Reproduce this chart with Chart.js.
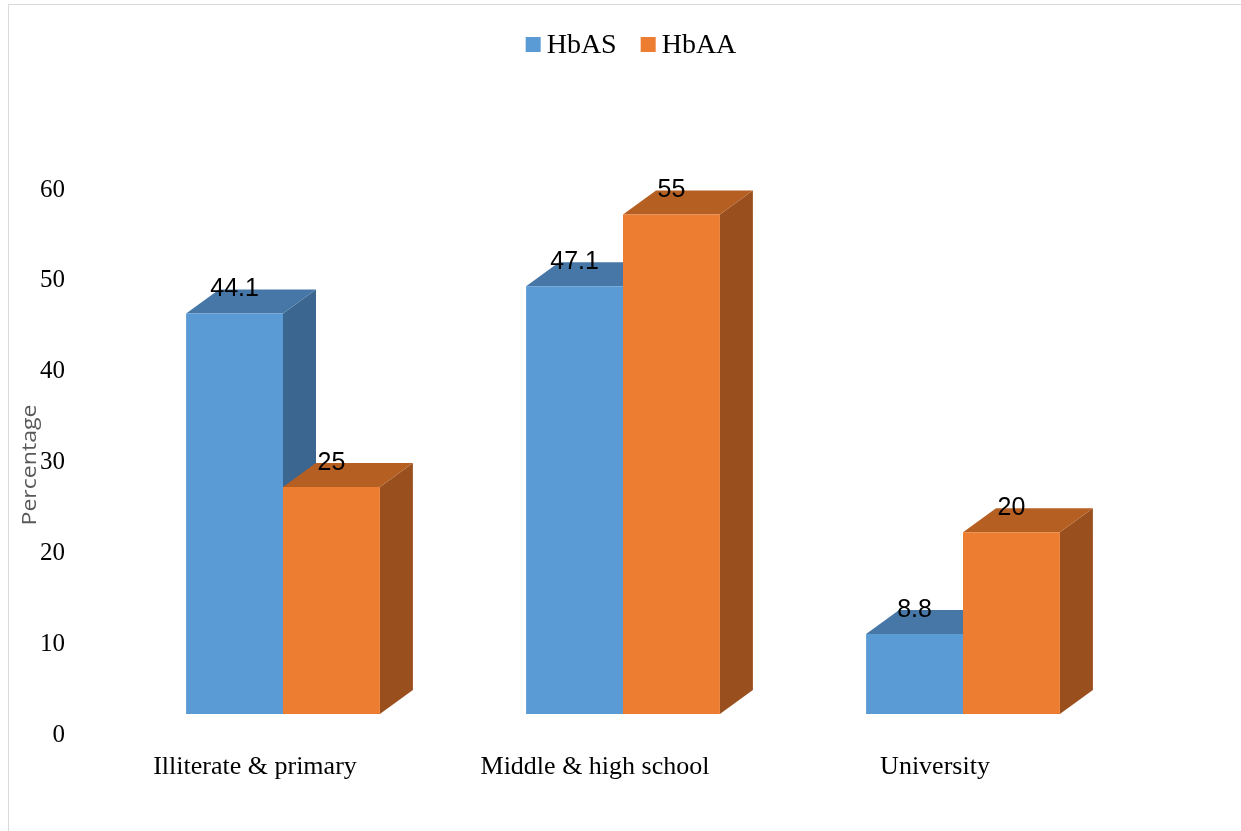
<!DOCTYPE html>
<html>
<head>
<meta charset="utf-8">
<script src="https://cdn.jsdelivr.net/npm/chart.js@4.4.0/dist/chart.umd.min.js"></script>
<style>
  html, body { margin: 0; padding: 0; background: #fff; overflow: hidden; }
  .frame { position: absolute; left: 8px; top: 4px; width: 1300px; height: 900px; border: 1px solid #d9d9d9; }
  #chart { position: absolute; left: 0; top: 0; }
</style>
</head>
<body>
<div class="frame"></div>
<canvas id="chart" width="1241" height="831"></canvas>
<script>
const categories = ['Illiterate & primary', 'Middle & high school', 'University'];
const seriesNames = ['HbAS', 'HbAA'];
const hbasValues = [44.1, 47.1, 8.8];
const hbaaValues = [25, 55, 20];
const yMin = 0, yMax = 60, yStep = 10;

// front / top / side shades for each series
const shades = [
  { front: '#5B9BD5', top: '#4677A6', side: '#3B6690' },
  { front: '#ED7D31', top: '#B65F23', side: '#9A4F1E' }
];

const depthX = 33;   // how far the box recedes to the right
const depthY = 24;   // ... and up
const lift = 21;     // floor sits a little above the axis zero line

const serif = "'Liberation Serif', 'Times New Roman', serif";
const sans = "'Liberation Sans', Arial, sans-serif";

function poly(ctx, pts, color) {
  ctx.beginPath();
  ctx.moveTo(pts[0][0], pts[0][1]);
  for (let k = 1; k < pts.length; k++) ctx.lineTo(pts[k][0], pts[k][1]);
  ctx.closePath();
  ctx.fillStyle = color;
  ctx.fill();
}

// draws the bars as boxes instead of flat rectangles
const bars3d = {
  id: 'bars3d',
  beforeDatasetsDraw(chart) {
    const ctx = chart.ctx;
    const labels = [];
    ctx.save();
    categories.forEach((_, i) => {
      chart.data.datasets.forEach((ds, d) => {
        const bar = chart.getDatasetMeta(d).data[i];
        const p = bar.getProps(['x', 'y', 'base', 'width'], true);
        const l = p.x - p.width / 2, r = p.x + p.width / 2;
        const t = p.y - lift, b = p.base - lift;
        const c = shades[d];
        poly(ctx, [[r, t], [r + depthX, t - depthY], [r + depthX, b - depthY], [r, b]], c.side);
        poly(ctx, [[l, t], [l + depthX, t - depthY], [r + depthX, t - depthY], [r, t]], c.top);
        poly(ctx, [[l, t], [r, t], [r, b], [l, b]], c.front);
        labels.push({ x: p.x, y: t - 17, text: String(ds.data[i]) });
      });
    });
    ctx.fillStyle = '#000';
    ctx.font = '25px ' + sans;
    ctx.textAlign = 'center';
    ctx.textBaseline = 'alphabetic';
    labels.forEach(lb => ctx.fillText(lb.text, lb.x, lb.y));
    ctx.restore();
    return false;
  }
};

const legendAndTitle = {
  id: 'legendAndTitle',
  afterDraw(chart) {
    const ctx = chart.ctx;
    ctx.save();
    // legend
    ctx.font = '28px ' + serif;
    const box = 15, gap = 6, spacing = 24;
    const widths = seriesNames.map(n => ctx.measureText(n).width);
    const total = widths.reduce((a, w) => a + box + gap + w, 0) + spacing * (seriesNames.length - 1);
    let x = 631 - total / 2;
    const cy = 44.5;
    ctx.textBaseline = 'middle';
    ctx.textAlign = 'left';
    seriesNames.forEach((n, i) => {
      ctx.fillStyle = shades[i].front;
      ctx.fillRect(x, cy - box / 2, box, box);
      ctx.fillStyle = '#000';
      ctx.fillText(n, x + box + gap, cy + 1);
      x += box + gap + widths[i] + spacing;
    });

    // y axis title, drawn a bit wide
    ctx.font = "20px 'Open Sans', sans-serif";
    ctx.fillStyle = '#595959';
    const tw = ctx.measureText('Percentage').width;
    ctx.translate(30, 465);
    ctx.rotate(-Math.PI / 2);
    ctx.scale(121 / tw, 1);
    ctx.textAlign = 'center';
    ctx.fillText('Percentage', 0, 0);
    ctx.restore();
  }
};

new Chart(document.getElementById('chart'), {
  type: 'bar',
  data: {
    labels: categories,
    datasets: [
      { label: seriesNames[0], data: hbasValues, backgroundColor: shades[0].front },
      { label: seriesNames[1], data: hbaaValues, backgroundColor: shades[1].front }
    ]
  },
  options: {
    responsive: false,
    animation: false,
    devicePixelRatio: 1,
    layout: { padding: { left: 0, right: 108, top: 190, bottom: 36 } },
    plugins: {
      legend: { display: false },
      tooltip: { enabled: false }
    },
    datasets: {
      bar: { barPercentage: 1, categoryPercentage: 0.57 }
    },
    scales: {
      x: {
        grid: { display: false, drawTicks: false },
        border: { display: false },
        ticks: {
          color: '#000',
          font: { family: serif, size: 26 },
          padding: 17,
          labelOffset: -28,
          maxRotation: 0
        },
        afterFit(scale) { scale.height = 60; }
      },
      y: {
        min: yMin,
        max: yMax,
        grid: { display: false, drawTicks: false },
        border: { display: false },
        ticks: {
          stepSize: yStep,
          color: '#000',
          font: { family: serif, size: 25 },
          padding: 48
        },
        afterFit(scale) { scale.width = 113; }
      }
    }
  },
  plugins: [bars3d, legendAndTitle]
});
</script>
</body>
</html>
